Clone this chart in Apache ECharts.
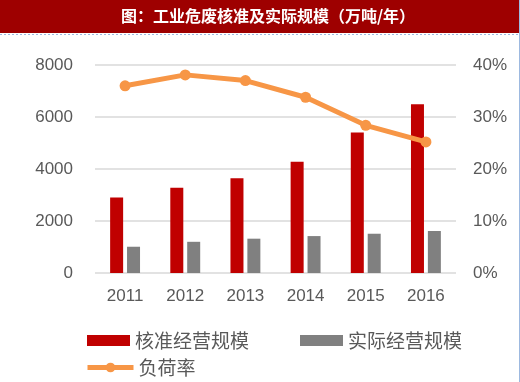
<!DOCTYPE html>
<html><head><meta charset="utf-8">
<script src="https://cdn.jsdelivr.net/npm/echarts@6/dist/echarts.min.js"></script>
<style>html,body{margin:0;padding:0;background:#fff}#c{width:520px;height:382px}</style>
</head><body><div id="c"></div>
<script>
var categories = ['2011','2012','2013','2014','2015','2016'];
var approved = [2900, 3280, 3640, 4280, 5400, 6490];
var actual = [1010, 1200, 1320, 1420, 1510, 1615];
var loadRate = [36.0, 38.1, 37.0, 33.8, 28.4, 25.2];
var leftTicks = [0, 2000, 4000, 6000, 8000];
var rightTicks = [0, 10, 20, 30, 40];

var chart = echarts.init(document.getElementById('c'));
var tickFont = {color:'#595959', fontSize:17, fontFamily:'Liberation Sans, Arial, sans-serif'};
var legFont = {color:'#595959', fontSize:19, fontFamily:'Noto Sans CJK SC'};
chart.setOption({
  animation:false,
  graphic:[
    {type:'rect', shape:{x:0,y:0,width:519,height:33}, style:{fill:'#9E0000'}},
    {type:'text', style:{x:268,y:16,text:'图：工业危废核准及实际规模（万吨/年）', fill:'#fff', fontSize:16, fontWeight:'bold', fontFamily:'Noto Sans CJK SC', align:'center', verticalAlign:'middle'}},
    {type:'line', shape:{x1:0,y1:34.5,x2:519,y2:34.5}, style:{stroke:'#9DB9E0', lineWidth:1, lineDash:[2,2]}},
    {type:'line', shape:{x1:519.5,y1:0,x2:519.5,y2:382}, style:{stroke:'#9DB9E0', lineWidth:1}}
  ],
  grid:{left:95, right:64, top:65, bottom:109},
  legend:[
    {data:['核准经营规模','实际经营规模'], left:87, top:331, padding:0, itemWidth:43, itemHeight:11, itemGap:51, textStyle:legFont, icon:'rect'},
    {data:['负荷率'], left:85, top:358, padding:0, itemWidth:46, itemHeight:12, textStyle:legFont, lineStyle:{width:5}}
  ],
  xAxis:{type:'category', data:categories, axisLine:{show:false}, axisTick:{show:false},
    axisLabel:Object.assign({margin:15}, tickFont)},
  yAxis:[
    {type:'value', min:0, max:8000, interval:2000, axisLine:{show:false}, axisTick:{show:false},
     axisLabel:Object.assign({margin:22, formatter:function(v){return String(v);}}, tickFont), splitLine:{lineStyle:{color:'#D9D9D9', width:1.5}}},
    {type:'value', min:0, max:40, interval:10, axisLine:{show:false}, axisTick:{show:false},
     axisLabel:Object.assign({margin:17, formatter:'{value}%'}, tickFont), splitLine:{show:false}}
  ],
  series:[
    {name:'核准经营规模', type:'bar', data:approved, barWidth:13, barGap:'30%', itemStyle:{color:'#C00000'}},
    {name:'实际经营规模', type:'bar', data:actual, barWidth:13, itemStyle:{color:'#808080'}},
    {name:'负荷率', type:'line', yAxisIndex:1, data:loadRate, symbol:'circle', symbolSize:11,
     lineStyle:{color:'#F79646', width:5}, itemStyle:{color:'#F79646'}}
  ]
});
</script></body></html>
